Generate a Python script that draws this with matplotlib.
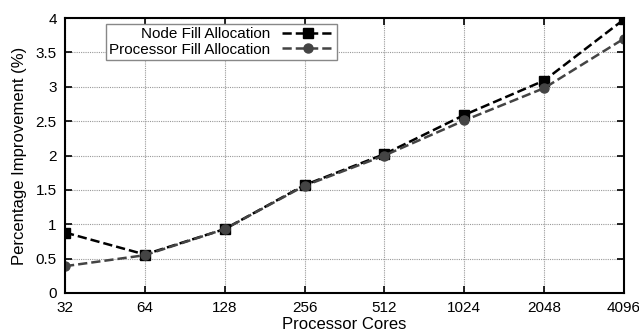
import numpy as np
import matplotlib
matplotlib.use("Agg")
import matplotlib.pyplot as plt

plt.rcParams["font.family"] = ["Liberation Sans", "DejaVu Sans"]

# Processor core counts and percentage improvement per allocation policy
cores = [32, 64, 128, 256, 512, 1024, 2048, 4096]
node_fill = [0.88, 0.56, 0.93, 1.57, 2.02, 2.59, 3.09, 3.98]
proc_fill = [0.39, 0.55, 0.93, 1.56, 2.00, 2.51, 2.98, 3.70]

fig = plt.figure(figsize=(6.39, 3.31), dpi=100)
ax = fig.add_axes([65 / 639, 1 - 293 / 331, 559 / 639, 275 / 331])

x = np.arange(len(cores))
ax.plot(x, node_fill, color="black", linestyle="--", linewidth=1.8,
        marker="s", markersize=6.5, label="Node Fill Allocation")
ax.plot(x, proc_fill, color="#444444", linestyle="--", linewidth=1.8,
        marker="o", markersize=6.5, label="Processor Fill Allocation")

ax.set_xlim(0, len(cores) - 1)
ax.set_ylim(0, 4)
ax.set_xticks(x)
ax.set_xticklabels([str(c) for c in cores])
ax.set_yticks([0, 0.5, 1, 1.5, 2, 2.5, 3, 3.5, 4])
ax.set_yticklabels(["0", "0.5", "1", "1.5", "2", "2.5", "3", "3.5", "4"])

ax.tick_params(direction="in", top=True, right=True, length=5, width=1.2,
               labelsize=11, pad=6)
for s in ax.spines.values():
    s.set_linewidth(1.5)

ax.grid(True, color="#999999", linestyle=(0, (1, 1)), linewidth=0.8)
ax.set_axisbelow(True)

ax.set_xlabel("Processor Cores", fontsize=12, labelpad=1)
ax.set_ylabel("Percentage Improvement (%)", fontsize=12, labelpad=6)

leg = ax.legend(loc="upper left", bbox_to_anchor=(0.073, 0.978), fontsize=11,
                markerfirst=False, fancybox=False, framealpha=1,
                edgecolor="#888888", handlelength=3.4, borderpad=0.2,
                labelspacing=0.1, handletextpad=0.8, borderaxespad=0)
leg.get_frame().set_linewidth(1.0)
leg._legend_box.align = "right"

fig.savefig("out.png", dpi=100)
